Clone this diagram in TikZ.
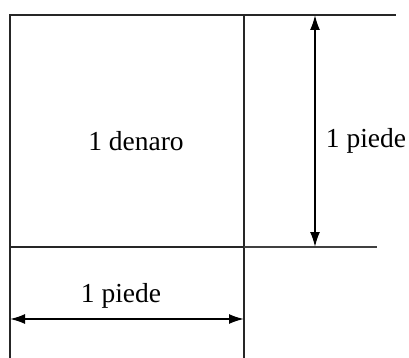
\documentclass[tikz,border=0pt]{standalone}
\usepackage{fontspec}
\setmainfont{Liberation Serif}
\usetikzlibrary{arrows.meta}
\begin{document}
\begin{tikzpicture}[x=1pt,y=-1pt,
  edge/.style={line width=2pt,black!85},
  thin edge/.style={line width=1.6pt,black!75},
  dim/.style={line width=1.8pt,black,{Latex[length=15pt,width=10pt]}-{Latex[length=15pt,width=10pt]}},
  lbl/.style={font=\fontsize{27.5}{32}\selectfont,inner sep=0pt}]
\useasboundingbox (0,0) rectangle (409,358);
\coordinate (tl) at (10,15);
\coordinate (tr) at (396,15);
\coordinate (bl) at (10,358);
\coordinate (sq) at (244,15);
\coordinate (sqb) at (244,358);
\coordinate (ml) at (10,247);
\coordinate (mc) at (244,247);
\coordinate (mr) at (377,247);
\coordinate (vt) at (315,15);
\coordinate (vb) at (315,247);
\coordinate (hl) at (10,319);
\coordinate (hr) at (244,319);
\draw[edge] (bl) -- (tl) -- (tr);
\draw[edge] (sq) -- (sqb);
\draw[edge] (ml) -- (mc);
\draw[thin edge] (mc) -- (mr);
\draw[dim] (vt) -- (vb);
\draw[dim] (hl) -- (hr);
\node[lbl] (den) at (136,141) {1 denaro};
\node[lbl] (pr) at (366,141) {1 piede};
\node[lbl] (pb) at (121,296) {1 piede};
\end{tikzpicture}
\end{document}
